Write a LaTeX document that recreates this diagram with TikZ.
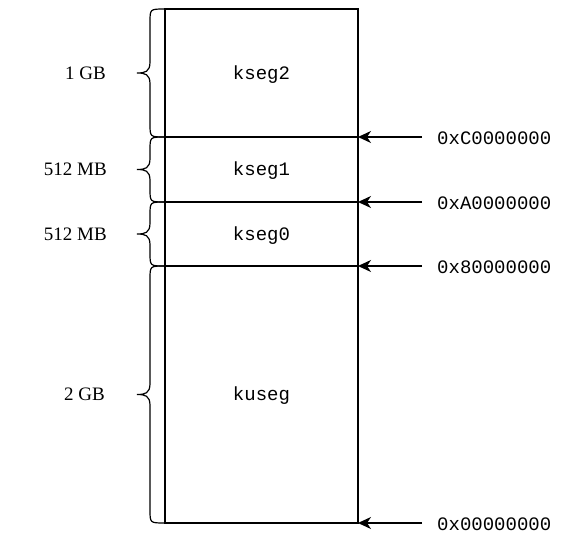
\documentclass[tikz,border=0pt]{standalone}
\usepackage{fontspec}
\setmainfont{Liberation Serif}
\newfontfamily\monof{Liberation Mono}
\usetikzlibrary{calc,arrows.meta}
\newcommand\segbrace[1]{%
 \draw[brcline] (#1.north west) .. controls ($(#1.north west)+(-15,0)$) .. ($(#1.north west)+(-15,-13)$)
 -- ($(#1.west)+(-15,11)$) .. controls ($(#1.west)+(-15,1)$) and ($(#1.west)+(-20,0)$) .. ($(#1.west)+(-28,0)$)
 .. controls ($(#1.west)+(-20,0)$) and ($(#1.west)+(-15,-1)$) .. ($(#1.west)+(-15,-11)$)
 -- ($(#1.south west)+(-15,13)$) .. controls ($(#1.south west)+(-15,0)$) .. (#1.south west);}
\begin{document}
\begin{tikzpicture}[x=1pt,y=1pt,
  seg/.style={draw,line width=1.2pt,minimum width=193pt,inner sep=0pt,outer sep=0pt,text depth=1pt,font=\monof\fontsize{19}{22}\selectfont},
  sizelbl/.style={anchor=east,inner sep=0pt,font=\fontsize{19}{21}\selectfont},
  addr/.style={anchor=west,inner sep=0pt,font=\monof\fontsize{19}{22}\selectfont},
  brcline/.style={line width=1.2pt},
  arr/.style={-{Stealth[length=13pt,width=12pt,inset=4pt]},line width=1.2pt}]
\useasboundingbox (0,0) rectangle (562,552);
\node[seg,minimum height=128pt] (kseg2) at (261.5,479) {kseg2};
\node[seg,minimum height=65pt] (kseg1) at (261.5,382.5) {kseg1};
\node[seg,minimum height=64pt] (kseg0) at (261.5,318) {kseg0};
\node[seg,minimum height=257pt] (kuseg) at (261.5,157.5) {kuseg};
% braces
\segbrace{kseg2}
\segbrace{kseg1}
\segbrace{kseg0}
\segbrace{kuseg}
\node[sizelbl] (s2) at (106,479) {1 GB};
\node[sizelbl] (s1) at (107,382.5) {512 MB};
\node[sizelbl] (s0) at (107,318) {512 MB};
\node[sizelbl] (su) at (105,157.5) {2 GB};
% arrows
\coordinate (cC) at (422,415);
\coordinate (cA) at (422,350);
\coordinate (c8) at (422,286);
\coordinate (c0) at (422,29);
\draw[arr] (cC) -- (kseg2.south east);
\draw[arr] (cA) -- (kseg1.south east);
\draw[arr] (c8) -- (kseg0.south east);
\draw[arr] (c0) -- (kuseg.south east);
\node[addr] (aC) at (437,414) {0xC0000000};
\node[addr] (aA) at (437,349) {0xA0000000};
\node[addr] (a8) at (437,285) {0x80000000};
\node[addr] (a0) at (437,28) {0x00000000};
\end{tikzpicture}
\end{document}
